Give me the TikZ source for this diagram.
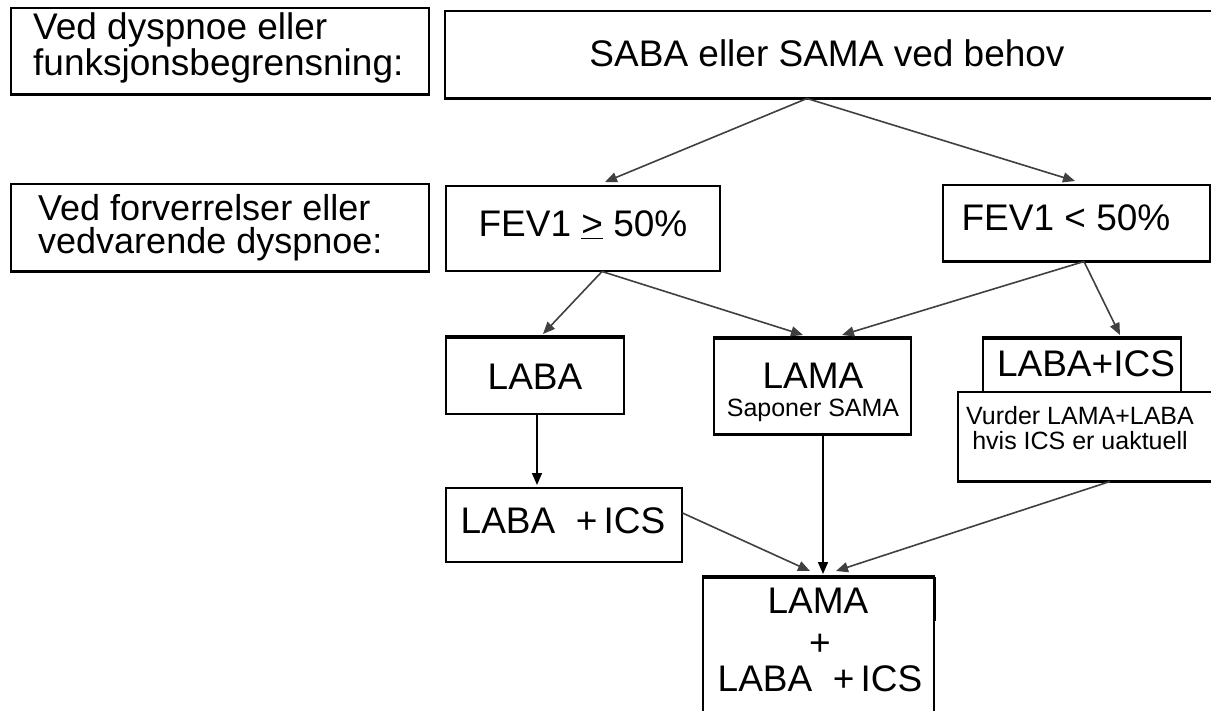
\documentclass[tikz,border=0pt]{standalone}
\usepackage{fontspec}
\setmainfont{Liberation Sans}
\usetikzlibrary{arrows.meta,calc}
\begin{document}
\begin{tikzpicture}[x=1pt,y=-1pt,
  box/.style={draw=black, line width=1.5pt, inner sep=0pt, anchor=north west},
  lbl/.style={inner sep=0pt, font=\fontsize{37}{31}\selectfont},
  small/.style={inner sep=0pt, font=\fontsize{25}{25}\selectfont},
  conn/.style={draw=black!75, line width=1.6pt, -{Triangle[length=12pt,width=10pt]}},
  vconn/.style={draw=black, line width=1.6pt, -{Triangle[length=12pt,width=10pt]}},
  thickedge/.style={line width=3.4pt, line cap=butt}]
\clip (0,0) rectangle (1211,710);
\fill[white] (0,0) rectangle (1211,710);

% left labels
\node[box, minimum width=418pt, minimum height=86pt] (dysp) at (10,7) {};
\node[lbl, align=left, anchor=west, font=\fontsize{37}{30}\selectfont] (dysptxt) at (33,48) {Ved dyspnoe eller\\funksjonsbegrensning:};
\node[box, minimum width=418pt, minimum height=87pt] (forv) at (10,183) {};
\node[lbl, align=left, anchor=west, font=\fontsize{36}{33}\selectfont] (forvtxt) at (38,228) {Ved forverrelser eller\\vedvarende dyspnoe:};

% top
\node[box, minimum width=771pt, minimum height=87pt] (saba) at (444,10) {};
\node[lbl] (sabatxt) at (827,53) {SABA eller SAMA ved behov};

% FEV boxes
\node[box, minimum width=274pt, minimum height=85pt] (fevA) at (445,185) {};
\node[lbl] (fevAtxt) at (583,225) {FEV1 \underline{>} 50\%};
\node[box, minimum width=267pt, minimum height=76pt] (fevB) at (942,184) {};
\node[lbl] (fevBtxt) at (1066,218) {FEV1 < 50\%};

% third row
\node[box, minimum width=178pt, minimum height=76pt] (laba) at (445,337) {};
\node[lbl] (labatxt) at (535,377) {LABA};
\node[box, minimum width=197pt, minimum height=95pt] (lama) at (713,338) {};
\node[lbl] (lamatxt) at (813,376) {LAMA};
\node[small] (sapon) at (813,410) {Saponer SAMA};
\node[box, minimum width=198pt, minimum height=53pt] (labaicsR) at (982,338) {};
\node[lbl] (labaicsRtxt) at (1086,364) {LABA+ICS};
\node[box, minimum width=254pt, minimum height=89pt] (vurder) at (957,391) {};
\node[small, align=center] (vurdertxt) at (1080,428) {Vurder LAMA+LABA\\hvis ICS er uaktuell};

% fourth row
\node[box, minimum width=236pt, minimum height=74pt] (labaics) at (445,487) {};
\node[lbl] (labaicstxt) at (563,521) {LABA~~+\,ICS};
\node[box, minimum width=231pt, minimum height=140pt] (final) at (702,577) {};
\node[lbl] (fin1) at (818,601) {LAMA};
\node[lbl] (fin2) at (820,645) {+};
\node[lbl] (fin3) at (820,679) {LABA~~+\,ICS};

% thick edges
\draw[thickedge] (laba.north west) -- (laba.north east);
\draw[thickedge] (lama.north west) -- (lama.north east);
\draw[thickedge] (lama.south west) -- (lama.south east);
\draw[thickedge] (labaicsR.north west) -- (labaicsR.north east);
\draw[thickedge] (final.north west) -- (final.north east);
\draw[thickedge] (final.north east) -- ($(final.north east)+(0,44)$);
\draw[line width=2.6pt] (saba.south west) -- (saba.south east);
\draw[line width=2.4pt] (dysp.south west) -- (dysp.south east);
\draw[line width=2.4pt] (forv.south west) -- (forv.south east);
\draw[line width=2.4pt] (fevB.south west) -- (fevB.south east);
\draw[line width=2.2pt] (vurder.south west) -- (vurder.south east);

% connectors
\coordinate (sabaout) at ($(saba.south west)+(363,0)$);
\draw[conn] (sabaout) -- ($(fevA.north west)+(160,-3)$);
\draw[conn] (sabaout) -- ($(fevB.north west)+(133,-3)$);
\coordinate (fevAout) at ($(fevA.south west)+(157,0)$);
\draw[conn] (fevAout) -- ($(laba.north west)+(98,-3)$);
\draw[conn] (fevAout) -- ($(lama.north west)+(90,-3)$);
\coordinate (fevBout) at ($(fevB.south west)+(142,0)$);
\draw[conn] (fevBout) -- ($(lama.north west)+(129,-3)$);
\draw[conn] (fevBout) -- ($(labaicsR.north west)+(138,-3)$);
\draw[vconn] ($(laba.south west)+(92,0)$) -- ($(labaics.north west)+(92,-2)$);
\draw[vconn] ($(lama.south west)+(110,0)$) -- ($(final.north west)+(121,-3)$);
\draw[conn] ($(labaics.north east)+(0,26)$) -- ($(final.north west)+(108,-6)$);
\draw[conn] ($(vurder.south west)+(153,0)$) -- ($(final.north west)+(134,-6)$);
\end{tikzpicture}
\end{document}
